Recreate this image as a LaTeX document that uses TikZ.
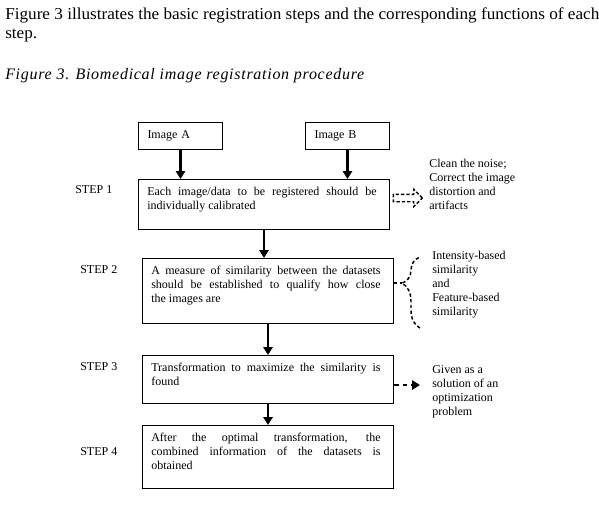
\documentclass[tikz,border=0pt]{standalone}
\usepackage{fontspec}
\setmainfont{Liberation Serif}
\usetikzlibrary{arrows.meta,positioning,shapes.arrows,decorations.pathreplacing}

\begin{document}
\begin{tikzpicture}[
  x=0.75pt,y=-0.75pt,
  font=\fontsize{9}{10.5}\selectfont,
  imgbox/.style={
    draw,
    line width=0.75pt,
    anchor=north west,
    minimum width=63pt,
    minimum height=20.25pt,
    text width=49.5pt,
    inner xsep=6.75pt,
    align=left
    },
  stepbox/.style={
    draw,
    line width=0.75pt,
    anchor=north west,
    minimum width=188.25pt,
    minimum height=#1
    },
  steptext/.style={
    inner sep=0pt,
    anchor=north west,
    text width=172pt,
    align=justify
    },
  steplabel/.style={anchor=west,inner sep=0pt},
  note/.style={anchor=north west,inner sep=0pt,align=left},
  flow/.style={line width=1.5pt,-{Triangle[length=6pt,width=7pt]}},
  flowin/.style={flow,line width=2pt},
  dashflow/.style={line width=1.5pt,dash pattern=on 3.5pt off 3pt,-{Triangle[length=6pt,width=7pt]}},
  bracedash/.style={line width=1.1pt,dash pattern=on 2.5pt off 1.8pt}
]
\useasboundingbox (0,0) rectangle (599,517);

\node[note,font=\fontsize{12.5}{14.25}\selectfont\addfontfeature{FakeStretch=1.03}] (intro) at (5,7)
  {Figure 3 illustrates the basic registration steps and the corresponding functions of each\\step.};
\node[note,font=\fontsize{12}{14.25}\itshape\addfontfeature{LetterSpace=4.5}] (caption) at (5,68)
  {Figure 3. Biomedical image registration procedure};

\node[imgbox] (imgA) at (138,122) {Image A};
\node[imgbox] (imgB) at (305,122) {Image B};

\node[stepbox=37.5pt]   (step1) at (138,179) {};
\node[stepbox=48.75pt]  (step2) at (142,258) {};
\node[stepbox=36pt]     (step3) at (142,355) {};
\node[stepbox=47.25pt]  (step4) at (142,425) {};

\node[steptext] (text1) at ([xshift=6.75pt,yshift=-6pt]step1.north west)
  {Each image/data to be registered should be\linebreak individually calibrated};
\node[steptext] (text2) at ([xshift=6.75pt,yshift=-6pt]step2.north west)
  {A measure of similarity between the datasets\linebreak should be established to qualify how close\linebreak the images are};
\node[steptext] (text3) at ([xshift=6.75pt,yshift=-6pt]step3.north west)
  {Transformation to maximize the similarity is\linebreak found};
\node[steptext] (text4) at ([xshift=6.75pt,yshift=-6pt]step4.north west)
  {After the optimal transformation, the\linebreak combined information of the datasets is\linebreak obtained};

\node[steplabel] (lab1) at (75,190) {STEP 1};
\node[steplabel] (lab2) at (80,270) {STEP 2};
\node[steplabel] (lab3) at (80,367) {STEP 3};
\node[steplabel] (lab4) at (80,452) {STEP 4};

\node[note] (note1) at (429,159) {Clean the noise;\\Correct the image\\distortion and\\artifacts};
\node[note] (note2) at (432,251) {Intensity-based\\similarity\\and\\Feature-based\\similarity};
\node[note] (note3) at (432,365) {Given as a\\solution of an\\optimization\\problem};

\draw[flowin] (imgA.south) -- (imgA.south |- step1.north);
\draw[flowin] (imgB.south) -- (imgB.south |- step1.north);
\draw[flow] (step1.south) -- (step1.south |- step2.north);
\draw[flow] (step2.south) -- (step2.south |- step3.north);
\draw[flow] (step3.south) -- (step3.south |- step4.north);

\node[single arrow,draw,line width=1pt,dash pattern=on 2.5pt off 1.5pt,
  inner xsep=0pt,inner ysep=2.25pt,minimum height=21.75pt,minimum width=0pt,
  single arrow head extend=3.75pt] (arr1) at (406,198) {};

\coordinate (btip) at (402,283);
\draw[bracedash,decorate,decoration={brace,amplitude=13.5pt,aspect=0.63}] (420,328) -- (420,257);
\draw[bracedash] (step2.east |- btip) -- (btip);

\coordinate (a3) at (420,385);
\draw[dashflow] (step3.east |- a3) -- (a3);

\end{tikzpicture}
\end{document}
